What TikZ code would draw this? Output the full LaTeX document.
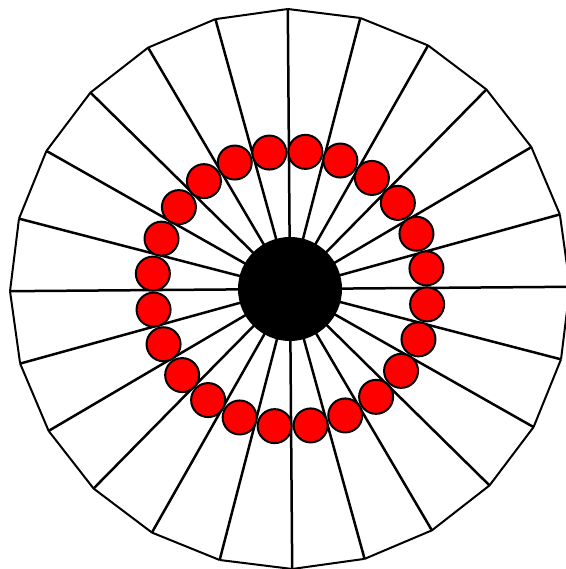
\documentclass[tikz,border=0pt]{standalone}
\usepackage{tikz}
\begin{document}
\begin{tikzpicture}[
  x=1pt,y=1pt,
  spoke/.style={line width=2.5pt},
  rim/.style={line width=2pt},
  hub/.style={circle,fill=black,minimum size=104pt,inner sep=0pt},
  bead/.style={circle,draw=black,fill=red,line width=2pt,minimum size=34pt,inner sep=0pt}
]
\useasboundingbox (-290,-280) rectangle (275,289);
% Hub
\node[hub] (hub) at (0,0) {};
% Rim corners
\foreach \i in {0,...,23}
  \coordinate (v\i) at ({90.45+15*\i}:280);
% Spokes and rim
\foreach \i [evaluate=\i as \j using {int(mod(\i+1,24))}] in {0,...,23} {
  \draw[spoke] (hub.center) -- (v\i);
  \draw[rim] (v\i) -- (v\j);
}
% Ring of beads
\foreach \i in {0,...,23}
  \node[bead] (bead\i) at ({8.6+15*\i}:138) {};
\end{tikzpicture}
\end{document}
